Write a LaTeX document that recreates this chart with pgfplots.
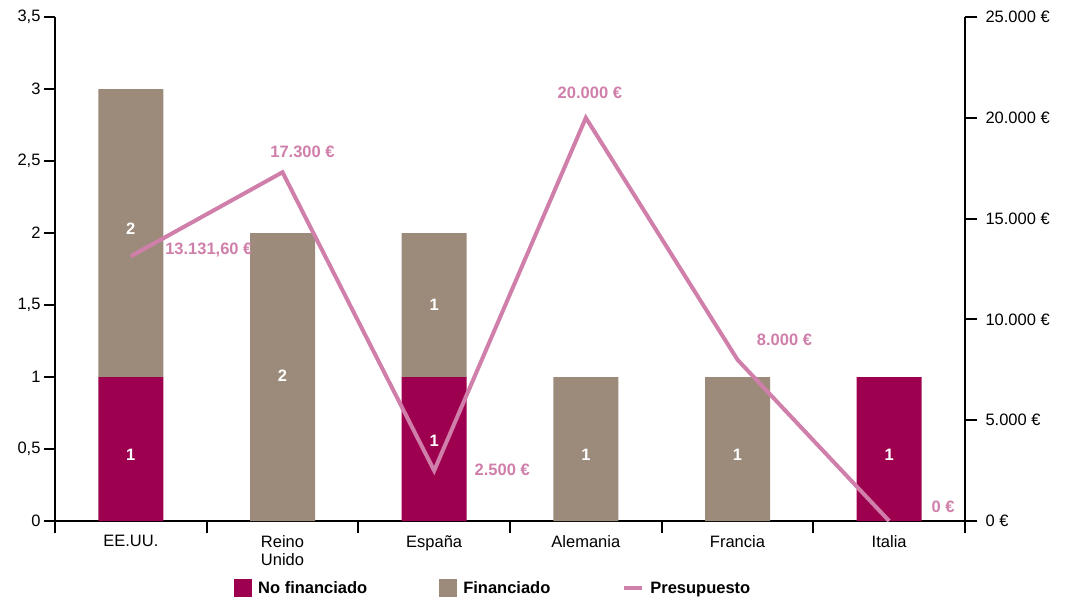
\documentclass[border=0pt]{standalone}
\usepackage{fontspec}
\setmainfont{Liberation Sans}
\usepackage{pgfplots}
\pgfplotsset{compat=1.18}

\definecolor{nofin}{HTML}{9E0050}
\definecolor{fin}{HTML}{9C8B7A}
\definecolor{presu}{HTML}{CF7FAA}

\pgfplotsset{
  base/.style={
    width=910pt, height=504pt, scale only axis,
    xmin=-0.5, xmax=5.5,
    font=\fontsize{16.5}{18}\selectfont,
    /pgf/number format/assume math mode=true,
    tick align=outside,
    axis line style={line width=2.4pt},
    tick style={line width=2pt, black},
    major tick length=11pt,
  }
}

\begin{document}
\begin{tikzpicture}
% bars (left axis)
\begin{axis}[base, name=main,
  ymin=0, ymax=3.5,
  ybar stacked, bar width=65pt,
  axis x line*=bottom, axis y line*=left,
  ytick={0,0.5,...,3.5},
  yticklabels={0,{0,5},1,{1,5},2,{2,5},3,{3,5}},
  xtick={0,...,5},
  xticklabels={EE.UU.,{Reino\\Unido},España,Alemania,Francia,Italia},
  xticklabel style={align=center},
  major x tick style={draw=none},
  minor xtick={-0.5,0.5,...,5.5},
  minor tick length=12pt,
  legend columns=3,
  legend style={at={(0.1934,-0.111)}, anchor=north west, draw=none, fill=none,
    font=\fontsize{16.5}{18}\selectfont\bfseries,
    /tikz/every odd column/.append style={column sep=4pt},
    /tikz/every even column/.append style={column sep=70pt}},
]
\addplot[fill=nofin, draw=none,
  legend image code/.code={\fill[nofin] (0pt,-8.5pt) rectangle (18pt,9pt);}]
  coordinates {(0,1) (1,0) (2,1) (3,0) (4,0) (5,1)};
\addplot[fill=fin, draw=none,
  legend image code/.code={\fill[fin] (0pt,-8.5pt) rectangle (18pt,9pt);}]
  coordinates {(0,2) (1,2) (2,1) (3,1) (4,1) (5,0)};
\addlegendimage{legend image code/.code={\draw[presu, line width=4pt] (0pt,0pt) -- (18pt,0pt);}}
\legend{No financiado, Financiado, Presupuesto}
\end{axis}

% budget line (right axis)
\begin{axis}[base,
  ymin=0, ymax=25000,
  axis y line*=right, axis x line=none,
  scaled y ticks=false,
  ytick={0,5000,...,25000},
  yticklabels={0 €,5.000 €,10.000 €,15.000 €,20.000 €,25.000 €},
  yticklabel style={xshift=5pt},
  major tick length=12pt,
]
\addplot[presu, line width=4pt, mark=none,
  nodes near coords, point meta=explicit symbolic,
  visualization depends on={value \thisrow{dx}\as\dx},
  visualization depends on={value \thisrow{dy}\as\dy},
  every node near coord/.append style={anchor=center, xshift=\dx pt, yshift=\dy pt,
    text=presu, font=\fontsize{16.5}{18}\selectfont\bfseries}]
  table[col sep=semicolon, meta=lab] {
x;y;lab;dx;dy
0;13131.6;13.131,60 €;78;6
1;17300;17.300 €;20;20
2;2500;2.500 €;68;1
3;20000;20.000 €;4;25
4;8000;8.000 €;47;20
5;0;0 €;54;14
};
\end{axis}

% values inside the bars
\begin{axis}[base, hide axis, ymin=0, ymax=3.5]
\addplot[only marks, mark=none,
  nodes near coords, point meta=explicit symbolic,
  every node near coord/.append style={anchor=center, text=white,
    font=\fontsize{16.5}{18}\selectfont\bfseries}]
  table[meta=lab] {
x y lab
0 0.458 1
0 2.03 2
1 1.01 2
2 0.556 1
2 1.5 1
3 0.458 1
4 0.458 1
5 0.458 1
};
\end{axis}

\pgfresetboundingbox
\path[use as bounding box] ([shift={(-55pt,-79pt)}]main.south west) rectangle ++(1065pt,600pt);
\end{tikzpicture}
\end{document}
